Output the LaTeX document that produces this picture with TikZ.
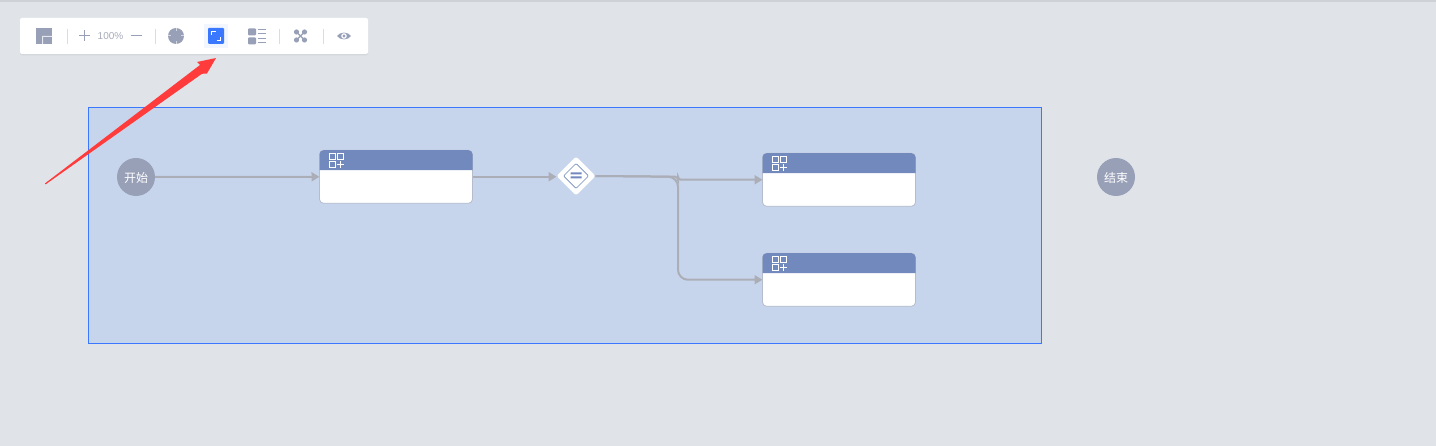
\documentclass[tikz,border=0pt]{standalone}
\usepackage{fontspec}
\newfontfamily\cjk{Noto Sans CJK SC}
\setsansfont{Liberation Sans}
\usetikzlibrary{arrows.meta,shapes.geometric,shadows}
\definecolor{pagebg}{HTML}{E0E4E9}
\definecolor{poolblue}{HTML}{C7D5EC}
\definecolor{edgeblue}{HTML}{3A78FF}
\definecolor{headblue}{HTML}{7189BD}
\definecolor{icongray}{HTML}{98A0B8}
\definecolor{flowgray}{HTML}{ABAEB7}
\definecolor{sepgray}{HTML}{D9DCE3}
\definecolor{tilebg}{HTML}{F2F6FE}
\definecolor{redmark}{HTML}{FF3B3B}
\definecolor{taskline}{HTML}{B5BCCB}
\tikzset{
	event/.style={circle,fill=icongray,minimum size=38pt,inner sep=0pt,text=white,text height=12.5pt,text depth=1.5pt,font=\cjk\fontsize{12}{14}\selectfont},
	task/.style={draw=taskline,fill=white,rounded corners=4pt,line width=.8pt,minimum width=153pt,minimum height=53pt,inner sep=0pt,outer sep=0pt},
	gateway/.style={diamond,fill=white,rounded corners=2.5pt,minimum size=39pt,inner sep=0pt,outer sep=0pt},
	flow/.style={draw=flowgray,line width=2pt,-{Triangle[length=8pt,width=9pt]}},
	tool/.style={fill=icongray,draw=none},
	sepline/.style={draw=sepgray,line width=1pt},
	iconline/.style={draw=white,line width=1pt}
}
\begin{document}
\begin{tikzpicture}[x=1pt,y=-1pt]
	\useasboundingbox (0,0) rectangle (1436,446);
	\fill[pagebg] (0,0) rectangle (1436,446);
	\fill[black!8!pagebg] (0,0) rectangle (1436,2);
	\draw[edgeblue,fill=poolblue,line width=.8pt] (88.5,107.5) rectangle (1041.5,343.5);

	\node[fill=white,rounded corners=2pt,minimum width=348pt,minimum height=36pt,inner sep=0pt,drop shadow={shadow xshift=0pt,shadow yshift=-1.5pt,opacity=.12}] (toolbar) at (194,36) {};
	\foreach \x in {67.5,155.5,279.5,323.5}
		\draw[sepline] (\x,29) -- (\x,44);

	\fill[tool] (36,28) rectangle (52,44);
	\fill[white!75!icongray] (42,36) rectangle (52,37) (42,36) rectangle (43,44);
	\draw[icongray,line width=1pt] (79,36) -- (90,36) (84.5,30.5) -- (84.5,41.5) (130.5,36) -- (141.5,36);
	\node[text=black!15!icongray!70,font=\sffamily\fontsize{10}{12}\selectfont,inner sep=0pt] (zoomlevel) at (110.5,36) {100\%};
	\fill[tool] (176,36) circle (8);
	\draw[white!60!icongray,line width=1pt] (176,28) -- (176,31) (176,41) -- (176,44) (168,36) -- (171,36) (181,36) -- (184,36);
	\fill[tilebg] (204,24) rectangle (228,48);
	\fill[edgeblue,rounded corners=1pt] (208,28) rectangle (224,44);
	\draw[iconline] (211.5,35) |- (215.5,31.5) (220.5,37) |- (216.5,40.5);
	\foreach \y in {28.5,37.5}
		\fill[tool,rounded corners=1pt] (248,\y) rectangle (256,\y+7);
	\foreach \y in {30,34,39,43}
		\draw[icongray,line width=1pt] (258,\y) -- (266,\y);
	\foreach \x/\y in {296.5/32,304.5/32,296.5/40,304.5/40}
		\fill[tool] (\x,\y) circle (2.6);
	\draw[icongray,line width=1.4pt] (296.5,32) -- (304.5,40) (304.5,32) -- (296.5,40);
	\fill[tool] (337,36) .. controls (340,31.5) and (348,31.5) .. (351,36) .. controls (348,40.5) and (340,40.5) .. (337,36);
	\fill[white] (344,36) circle (2.8);
	\fill[tool] (344,36) circle (1.6);

	\node[event] (start) at (136,177) {开始};
	\node[event] (end) at (1116,177) {结束};
	\node[task] (task1) at (396,176.75) {};
	\node[task] (task2) at (839,179.75) {};
	\node[task] (task3) at (839,279.75) {};
	\node[gateway] (gate) at (576,176) {};
	\draw[headblue,line width=.7pt,rounded corners=1pt] (576,163.5) -- (588.5,176) -- (576,188.5) -- (563.5,176) -- cycle;
	\fill[headblue] (570.5,172.5) rectangle (581.5,174.5) (570.5,176.5) rectangle (581.5,178.5);
	\foreach \n in {task1,task2,task3}{
		\fill[headblue] ([yshift=-20pt]\n.north west) [rounded corners=4pt] -- (\n.north west) -- (\n.north east) [sharp corners] -- ([yshift=-20pt]\n.north east) -- cycle;
		\begin{scope}[shift={(\n.north west)}]
			\draw[iconline] (9.5,3.5) rectangle (15.5,9.5) (17.5,3.5) rectangle (23.5,9.5) (9.5,11.5) rectangle (15.5,17.5) (17,14.5) -- (24,14.5) (20.5,11) -- (20.5,18);
		\end{scope}
	}

	\draw[flow] (start) -- (task1);
	\draw[flow] (task1.east) -- (task1.east -| gate.west);
	\coordinate (split) at (678,176.75);
	\draw[flow,rounded corners=3pt] (gate.east) -- (split) |- (task2.west);
	\draw[flow,rounded corners=10pt] (gate.east) -- (split) |- (task3.west);

	\coordinate (marktail) at (45,184);
	\coordinate (marktip) at (216,58);
	\fill[redmark] (45,183.4) -- (200,65) -- (197,62) -- (marktip) -- (207,73.5) -- (202,73.8) -- (45.6,184.4) -- cycle;
\end{tikzpicture}
\end{document}
